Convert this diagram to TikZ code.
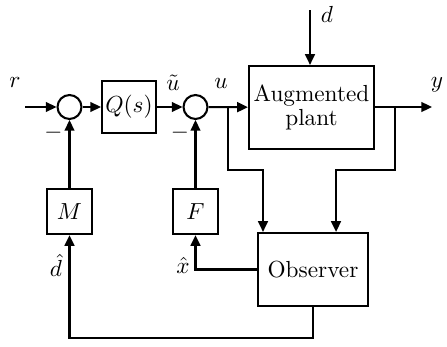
\documentclass[tikz,border=0pt]{standalone}
\usetikzlibrary{arrows.meta}
\begin{document}
\begin{tikzpicture}[x=0.43pt,y=-0.43pt,
  line width=0.9pt,
  arr/.style={-{Triangle[length=4.6pt,width=4.2pt]}},
  blk/.style={draw,rectangle,inner sep=0pt,align=center},
  sumnode/.style={draw,circle,minimum size=10.3pt,inner sep=0pt},
  lbl/.style={inner sep=0pt}]
\useasboundingbox (0,0) rectangle (447,347);
% nodes
\node[sumnode] (s1) at (69.5,107) {};
\node[blk,minimum width=23.2pt,minimum height=22.4pt] (Q) at (129,107) {$Q(s)$};
\node[sumnode] (s2) at (195.5,107) {};
\node[blk,minimum width=53.8pt,minimum height=35.7pt] (P) at (311.5,107.5) {Augmented\\[-2pt]plant};
\node[blk,minimum width=19.4pt,minimum height=19.4pt] (M) at (69.5,211.5) {$M$};
\node[blk,minimum width=19.4pt,minimum height=19.4pt] (F) at (195.5,211.5) {$F$};
\node[blk,minimum width=47.3pt,minimum height=31.4pt] (O) at (313,269.5) {Observer};
% coordinates
\coordinate (rin) at (25,107);
\coordinate (din) at (310,10);
\coordinate (yout) at (432,107);
\coordinate (ub) at (228,107);
\coordinate (yb) at (395,107);
\coordinate (ubc) at (228,170);
\coordinate (ybc) at (395,170);
\coordinate (bot) at (313,338);
% labels
\node[lbl] (lr) at (15,82) {$r$};
\node[lbl] (lm1) at (53.5,133) {$-$};
\node[lbl] (lut) at (173,83) {$\tilde{u}$};
\node[lbl] (lm2) at (180,133) {$-$};
\node[lbl] (lu) at (221,83) {$u$};
\node[lbl] (ld) at (327,14) {$d$};
\node[lbl] (ly) at (437,85) {$y$};
\node[lbl] (lxh) at (183,265) {$\hat{x}$};
\node[lbl] (ldh) at (56,265) {$\hat{d}$};
% connectors
\draw[arr] (rin) -- (s1);
\draw[arr] (s1) -- (Q);
\draw[arr] (Q) -- (s2);
\draw[arr] (s2) -- (P);
\draw[arr] (din) -- (P.north -| din);
\draw[arr] (P.east |- yout) -- (yout);
\draw[arr] (ub) -- (ubc) -| ([xshift=-21.5pt]O.north);
\draw[arr] (yb) -- (ybc) -| ([xshift=9.9pt]O.north);
\draw[arr] (M) -- (s1);
\draw[arr] (F) -- (s2);
\draw[arr] (O.west) -| (F.south);
\draw[arr] (O.south) -- (bot) -| (M.south);
\end{tikzpicture}
\end{document}
